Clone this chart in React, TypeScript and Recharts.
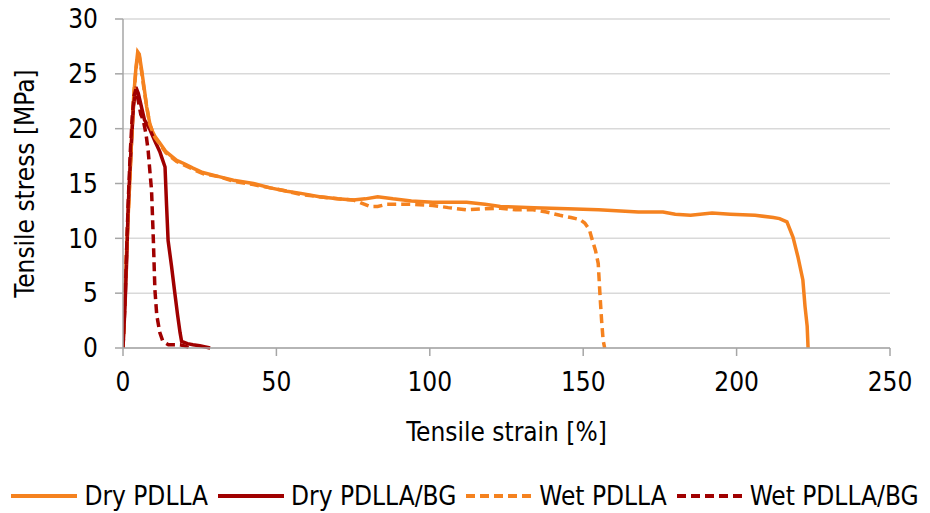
import React from 'react';
import { LineChart, Line, XAxis, YAxis, CartesianGrid, Legend } from 'recharts';

// Tensile test curves
const dryPdllaStrain = [0, 0.5, 1.2, 2, 2.8, 3.5, 4.2, 4.8, 5.3, 6, 7, 7.7, 8.7, 9.5, 10.4, 12, 14, 17.5, 20, 22.8, 26, 31.6, 36, 42.5, 48, 53.4, 58, 64, 70, 75, 79, 83, 88, 94, 101, 112, 118, 123, 134, 145, 155, 168, 176, 180, 185, 192, 198, 206, 212, 214, 216.4, 218.4, 220, 221.6, 222.3, 223, 223.3];
const dryPdllaStress = [0, 4, 9, 14, 19, 23, 25.5, 27, 26.8, 25.5, 23.5, 22, 20.5, 19.8, 19.3, 18.7, 17.9, 17.1, 16.8, 16.4, 16.0, 15.6, 15.3, 15.0, 14.6, 14.3, 14.1, 13.8, 13.6, 13.5, 13.6, 13.8, 13.6, 13.4, 13.3, 13.3, 13.1, 12.9, 12.8, 12.7, 12.6, 12.4, 12.4, 12.2, 12.1, 12.3, 12.2, 12.1, 11.9, 11.8, 11.5, 10.1, 8.3, 6.2, 3.8, 2.0, 0];

const dryBgStrain = [0, 0.65, 1.2, 1.7, 2.3, 2.8, 3.4, 4.2, 5, 6, 7, 8.8, 10.5, 12, 12.6, 13.7, 14.2, 14.7, 15.8, 16.9, 17.8, 18.6, 19.1, 21, 22.8, 25, 28.4];
const dryBgStress = [0, 3.8, 8, 12.9, 16.5, 19, 22, 23.8, 23.2, 22, 20.8, 19.9, 18.8, 17.9, 17.4, 16.5, 13, 9.8, 7.5, 5, 3, 1.4, 0.6, 0.4, 0.3, 0.2, 0];

const wetPdllaStrain = [0, 0.5, 1.2, 2, 2.8, 3.5, 4.2, 4.8, 5.3, 6, 7, 8.7, 10.4, 12, 14, 17.5, 22.8, 26, 31.6, 36, 42.5, 48, 53.4, 58, 64, 70, 75, 77, 80.5, 83, 86, 90, 94.5, 101, 106, 112, 118, 123, 128, 133.7, 138, 142.4, 146, 149, 150.5, 152, 152.7, 154, 154.9, 155.5, 156, 156.5, 157];
const wetPdllaStress = [0, 4, 9, 14, 19, 23, 25.3, 26.8, 26.6, 25.3, 23.3, 20.4, 19.2, 18.6, 17.8, 17.0, 16.3, 15.9, 15.6, 15.2, 14.9, 14.6, 14.3, 14.0, 13.8, 13.6, 13.5, 13.3, 12.9, 12.9, 13.1, 13.1, 13.1, 13.0, 12.8, 12.6, 12.7, 12.75, 12.6, 12.6, 12.4, 12.1, 11.9, 11.7, 11.4, 10.8, 10.1, 8.9, 7.7, 4.7, 2.5, 0.7, 0];

const wetBgStrain = [0, 0.7, 1.3, 1.8, 2.4, 3, 3.6, 4.2, 5, 5.8, 6.6, 7.5, 8.2, 8.8, 9.3, 9.9, 10.4, 11, 12, 13, 14.8, 18.6, 20, 22];
const wetBgStress = [0, 4.5, 10, 14, 18, 21, 23, 23.6, 22.5, 21.3, 20.8, 19.5, 18, 16, 14.4, 9.8, 5.3, 3, 1.4, 0.6, 0.3, 0.3, 0.2, 0];

const xTicks = [0, 50, 100, 150, 200, 250];
const yTicks = [0, 5, 10, 15, 20, 25, 30];

const ORANGE = '#F5821F';
const DARK_RED = '#A00000';
const FONT = "'Liberation Sans Narrow', 'DejaVu Sans Condensed', sans-serif";

const toPoints = (xs: number[], ys: number[]) =>
  xs.map((x, i) => ({ strain: x, stress: ys[i] }));

const series = [
  { name: 'Dry PDLLA', data: toPoints(dryPdllaStrain, dryPdllaStress), color: ORANGE, dash: undefined },
  { name: 'Dry PDLLA/BG', data: toPoints(dryBgStrain, dryBgStress), color: DARK_RED, dash: undefined },
  { name: 'Wet PDLLA', data: toPoints(wetPdllaStrain, wetPdllaStress), color: ORANGE, dash: '9 5' },
  { name: 'Wet PDLLA/BG', data: toPoints(wetBgStrain, wetBgStress), color: DARK_RED, dash: '9 5' },
];

const renderLegend = () => (
  <div
    style={{
      display: 'flex',
      justifyContent: 'center',
      alignItems: 'center',
      height: 34,
      fontFamily: FONT,
      fontSize: 26,
      color: '#000',
    }}
  >
    {series.map((s) => (
      <div key={s.name} style={{ display: 'flex', alignItems: 'center', margin: '0 5px' }}>
        <svg width={66} height={10}>
          <line x1={0} y1={5} x2={66} y2={5} stroke={s.color} strokeWidth={4} strokeDasharray={s.dash} />
        </svg>
        <span style={{ marginLeft: 7 }}>{s.name}</span>
      </div>
    ))}
  </div>
);

const XTitle = (props: any) => {
  const { viewBox } = props;
  return (
    <text
      x={viewBox.x + viewBox.width / 2}
      y={viewBox.y + 93}
      textAnchor="middle"
      fontFamily={FONT}
      fontSize={26}
      fill="#000"
    >
      Tensile strain [%]
    </text>
  );
};

const YTitle = (props: any) => {
  const { viewBox } = props;
  const cx = 34;
  const cy = viewBox.y + viewBox.height / 2;
  return (
    <text
      x={cx}
      y={cy}
      transform={`rotate(-90 ${cx} ${cy})`}
      textAnchor="middle"
      fontFamily={FONT}
      fontSize={26}
      fill="#000"
    >
      Tensile stress [MPa]
    </text>
  );
};

export default function App() {
  return (
    <div style={{ position: 'absolute', left: 0, top: 0, width: 930, height: 513, background: '#fff' }}>
      <LineChart width={930} height={513} margin={{ top: 19, right: 40, left: 0, bottom: 0 }}>
        <CartesianGrid vertical={false} stroke="#D9D9D9" strokeWidth={1.5} />
        <XAxis
          type="number"
          dataKey="strain"
          domain={[0, 250]}
          ticks={xTicks}
          allowDataOverflow
          height={131}
          stroke="#A6A6A6"
          strokeWidth={1.5}
          tickSize={8}
          tickMargin={17}
          tick={{ fill: '#000', fontSize: 26, fontFamily: FONT }}
          label={{ content: XTitle }}
        />
        <YAxis
          type="number"
          dataKey="stress"
          domain={[0, 30]}
          ticks={yTicks}
          width={123}
          stroke="#A6A6A6"
          strokeWidth={1.5}
          tickSize={8}
          tickMargin={17}
          tick={{ fill: '#000', fontSize: 26, fontFamily: FONT }}
          label={{ content: YTitle }}
        />
        <Legend verticalAlign="bottom" content={renderLegend} wrapperStyle={{ left: 0, width: 930 }} />
        {series.map((s) => (
          <Line
            key={s.name}
            name={s.name}
            data={s.data}
            dataKey="stress"
            type="linear"
            stroke={s.color}
            strokeWidth={3.5}
            strokeDasharray={s.dash}
            dot={false}
            activeDot={false}
            isAnimationActive={false}
          />
        ))}
      </LineChart>
    </div>
  );
}
